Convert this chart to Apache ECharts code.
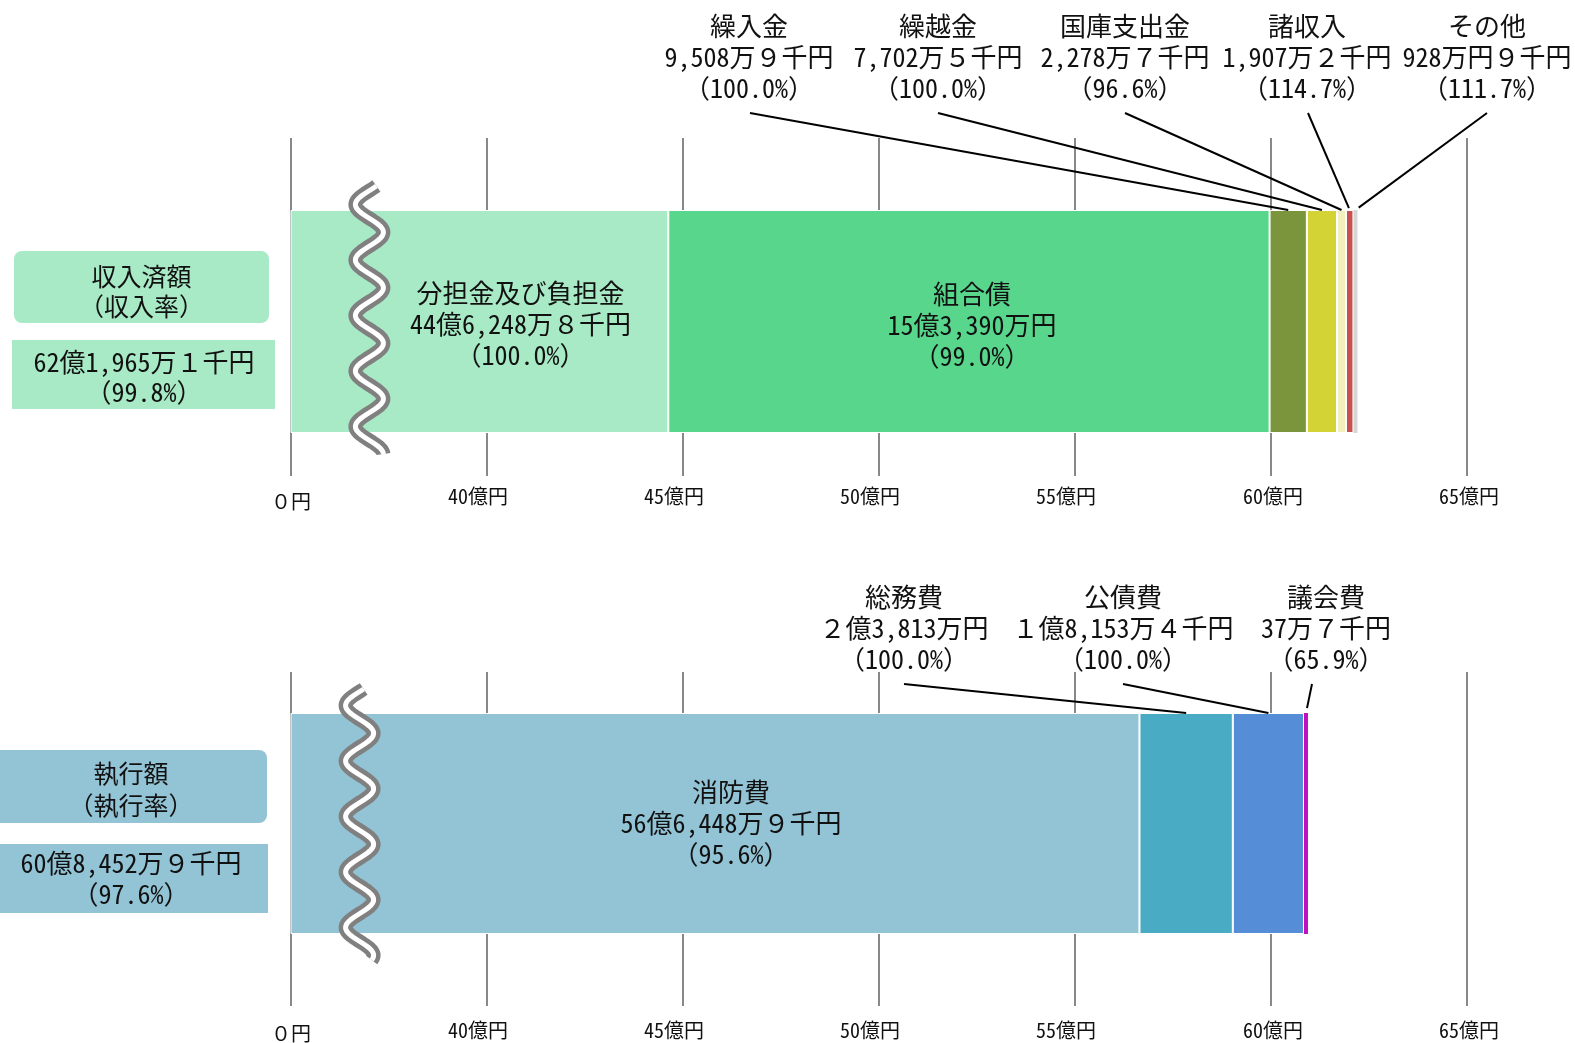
<!DOCTYPE html>
<html>
<head>
<meta charset="utf-8">
<script src="https://cdn.jsdelivr.net/npm/echarts@6/dist/echarts.min.js"></script>
<style>
  html, body { margin: 0; padding: 0; background: #fff; }
  #chart { width: 1575px; height: 1043px; }
</style>
</head>
<body>
<div id="chart"></div>
<script>
// ---- 歳入（単位：千円） ----
const incomeNames = ['分担金及び負担金', '組合債', '繰入金', '繰越金', '国庫支出金', '諸収入', 'その他'];
const incomeValues = [4462488, 1533900, 95089, 77025, 22787, 19072, 9289];
const incomeAmountText = ['44億6,248万８千円', '15億3,390万円', '9,508万９千円', '7,702万５千円',
  '2,278万７千円', '1,907万２千円', '928万円９千円'];
const incomeRates = [100.0, 99.0, 100.0, 100.0, 96.6, 114.7, 111.7];
const incomeTotalText = '62億1,965万１千円';
const incomeTotalRate = 99.8;

// ---- 歳出（単位：千円） ----
const expenseNames = ['消防費', '総務費', '公債費', '議会費'];
const expenseValues = [5664489, 238130, 181534, 377];
const expenseAmountText = ['56億6,448万９千円', '２億3,813万円', '１億8,153万４千円', '37万７千円'];
const expenseRates = [95.6, 100.0, 100.0, 65.9];
const expenseTotalText = '60億8,452万９千円';
const expenseTotalRate = 97.6;

// ---- 目盛（0円の位置に35億円を当てた省略軸） ----
const axisMin = 3500000;
const axisMax = 6500000;
const axisStep = 500000;
const tickLabels = ['０円', '40億円', '45億円', '50億円', '55億円', '60億円', '65億円'];

// ---- 見た目 ----
const FONT = "'Noto Sans Mono CJK JP', 'Noto Sans CJK JP', sans-serif";
const incomeColors = ['#a8eac6', '#57d68c', '#7a953c', '#d3d336', '#f2f0bd', '#c85050', '#d6d6d6'];
const expenseColors = ['#93c4d6', '#4aabc4', '#558ed6', '#c010c0'];
const GRID_LEFT = 291, GRID_RIGHT = 108;
const TOP_BAR = { top: 210, height: 223 };
const BOT_BAR = { top: 713, height: 222 };
const GRID_COLOR = '#888';

// 帯の中に書く内訳ラベル（系列番号 → ずらし量）
const incomeInnerLabels = { 0: [41, 3], 1: [3, 4] };
const expenseInnerLabels = { 0: [16, 0] };

// 引き出し線付きの内訳ラベル
const incomeCallouts = [
  { idx: 2, x: 749, y: 57, lineX: 750, lineY: 113, gap: 0 },
  { idx: 3, x: 938, y: 57, lineX: 938, lineY: 113, gap: 0 },
  { idx: 4, x: 1125, y: 57, lineX: 1125, lineY: 113, gap: 0 },
  { idx: 5, x: 1307, y: 57, lineX: 1308, lineY: 113, gap: 2 },
  { idx: 6, x: 1487, y: 57, lineX: 1487, lineY: 113, gap: 4 }
];
const expenseCallouts = [
  { idx: 1, x: 904, y: 628, lineX: 904, lineY: 684, gap: 0 },
  { idx: 2, x: 1123, y: 628, lineX: 1123, lineY: 684, gap: 0 },
  { idx: 3, x: 1326, y: 628, lineX: 1312, lineY: 684, gap: 5 }
];

const rateText = r => '（' + r.toFixed(1) + '%）';

const chart = echarts.init(document.getElementById('chart'), null, { renderer: 'canvas' });

function tickFormatter(v) {
  const i = Math.round((v - axisMin) / axisStep);
  const t = tickLabels[i];
  if (i === 0) return '{z|' + t + '}';
  return i <= 4 ? '{a|' + t + '}' : '{b|' + t + '}';
}

function labelRich(zPad) {
  const base = { fontSize: 20, fontFamily: FONT, color: '#111', lineHeight: 20 };
  return {
    z: Object.assign({}, base, { padding: [zPad, 0, 0, 0] }),
    a: Object.assign({}, base, { padding: [0, 18, 0, 0] }),
    b: Object.assign({}, base, { padding: [0, 0, 0, 4] })
  };
}

function lowerAxis(gridIndex, tickLen, margin, zPad) {
  return {
    type: 'value', gridIndex, position: 'bottom',
    min: axisMin, max: axisMax, interval: axisStep,
    axisLine: { show: false },
    axisTick: { show: true, length: tickLen, lineStyle: { color: GRID_COLOR, width: 2 } },
    axisLabel: { show: true, margin, formatter: tickFormatter, rich: labelRich(zPad) },
    splitLine: { show: true, lineStyle: { color: GRID_COLOR, width: 2 } }
  };
}

function upperAxis(gridIndex, tickLen) {
  return {
    type: 'value', gridIndex, position: 'top',
    min: axisMin, max: axisMax, interval: axisStep,
    axisLine: { show: false },
    axisTick: { show: true, length: tickLen, lineStyle: { color: GRID_COLOR, width: 2 } },
    axisLabel: { show: false },
    splitLine: { show: false }
  };
}

function makeSeries(names, values, colors, amounts, rates, stack, axisIdx, inner) {
  return names.map((n, i) => {
    const s = {
      type: 'bar', name: n, stack, xAxisIndex: axisIdx, yAxisIndex: axisIdx / 2,
      barWidth: '100%', silent: true, animation: false,
      data: [values[i]],
      itemStyle: { color: colors[i], borderColor: '#fff', borderWidth: 1 },
      label: { show: false }
    };
    if (inner[i]) {
      s.label = {
        show: true, position: 'inside', offset: inner[i],
        fontSize: 26, lineHeight: 31, fontFamily: FONT, color: '#111', align: 'center',
        formatter: () => n + '\n' + amounts[i] + '\n' + rateText(rates[i])
      };
    }
    // ごく小さい項目も見えるよう最小幅を確保
    if (i === names.length - 1) {
      s.barMinHeight = 4;
      s.itemStyle.borderWidth = 0;
    }
    return s;
  });
}

chart.setOption({
  backgroundColor: '#fff',
  animation: false,
  textStyle: { fontFamily: FONT },
  grid: [
    { left: GRID_LEFT, right: GRID_RIGHT, top: TOP_BAR.top, height: TOP_BAR.height },
    { left: GRID_LEFT, right: GRID_RIGHT, top: BOT_BAR.top, height: BOT_BAR.height }
  ],
  xAxis: [
    lowerAxis(0, 43, 53, 10),
    upperAxis(0, 72),
    lowerAxis(1, 72, 86, 6),
    upperAxis(1, 41)
  ],
  yAxis: [
    { type: 'category', gridIndex: 0, data: ['歳入'], show: false },
    { type: 'category', gridIndex: 1, data: ['歳出'], show: false }
  ],
  series: [
    ...makeSeries(incomeNames, incomeValues, incomeColors, incomeAmountText, incomeRates, 'income', 0, incomeInnerLabels),
    ...makeSeries(expenseNames, expenseValues, expenseColors, expenseAmountText, expenseRates, 'expense', 2, expenseInnerLabels)
  ]
});

// ---- 装飾（見出し箱・省略記号・引き出し線） ----
const px = (axisIdx, v) => chart.convertToPixel({ xAxisIndex: axisIdx }, v);

function textEl(x, y, text, size, lh) {
  return {
    type: 'text', x, y, z: 20, silent: true,
    style: {
      text, fill: '#111', fontSize: size, fontFamily: FONT,
      align: 'center', verticalAlign: 'middle', lineHeight: lh
    }
  };
}

function wave(cx, top, bottom, firstLeft) {
  const pts = [];
  const A = 14, P = 55.5;
  for (let y = top; y <= bottom; y += 1) {
    pts.push([cx - A * Math.cos(2 * Math.PI * (y - firstLeft) / P), y]);
  }
  return [
    { type: 'polyline', z: 30, silent: true, shape: { points: pts },
      style: { stroke: '#808080', lineWidth: 14, fill: null, lineCap: 'butt', lineJoin: 'round' } },
    { type: 'polyline', z: 31, silent: true, shape: { points: pts },
      style: { stroke: '#fff', lineWidth: 5, fill: null, lineCap: 'butt', lineJoin: 'round' } }
  ];
}

function callouts(list, names, values, amounts, rates, axisIdx, barTop) {
  const els = [];
  const starts = [];
  let acc = axisMin;
  values.forEach((v, i) => { starts.push(i === 0 ? axisMin : acc); acc = (i === 0 ? v : acc + v); });
  list.forEach(c => {
    const i = c.idx;
    const x0 = px(axisIdx, starts[i]);
    let x1 = px(axisIdx, starts[i] + values[i]);
    if (x1 - x0 < 4) x1 = x0 + 4;
    const cx = (x0 + x1) / 2;
    els.push(textEl(c.x, c.y, names[i] + '\n' + amounts[i] + '\n' + rateText(rates[i]), 26, 31));
    // 引き出し線：ラベル下から帯の上端へ
    const dx = cx - c.lineX, dy = barTop - c.lineY;
    const len = Math.sqrt(dx * dx + dy * dy);
    const k = (len - c.gap) / len;
    els.push({
      type: 'line', z: 25, silent: true,
      shape: { x1: c.lineX, y1: c.lineY, x2: c.lineX + dx * k, y2: c.lineY + dy * k },
      style: { stroke: '#000', lineWidth: 2 }
    });
  });
  return els;
}

const graphics = [];

// 収入済額の見出し
graphics.push({ type: 'rect', z: 5, silent: true, shape: { x: 14, y: 251, width: 255, height: 72, r: 8 }, style: { fill: '#a8eac6' } });
graphics.push(textEl(141.5, 291, '収入済額\n（収入率）', 25, 30));
graphics.push({ type: 'rect', z: 5, silent: true, shape: { x: 12, y: 340, width: 263, height: 69 }, style: { fill: '#a8eac6' } });
graphics.push(textEl(144, 377, incomeTotalText + '\n' + rateText(incomeTotalRate), 26, 30));

// 執行額の見出し
graphics.push({ type: 'rect', z: 5, silent: true, shape: { x: -8, y: 750, width: 275, height: 73, r: 8 }, style: { fill: '#93c4d6' } });
graphics.push(textEl(131, 789, '執行額\n（執行率）', 25, 32));
graphics.push({ type: 'rect', z: 5, silent: true, shape: { x: 0, y: 844, width: 268, height: 69 }, style: { fill: '#93c4d6' } });
graphics.push(textEl(131, 879, expenseTotalText + '\n' + rateText(expenseTotalRate), 26, 31));

// 省略記号（波線）
graphics.push(...wave(px(0, 3700000), TOP_BAR.top - 24, TOP_BAR.top + TOP_BAR.height + 21, TOP_BAR.top + 50));
graphics.push(...wave(px(2, 3675000), BOT_BAR.top - 24, BOT_BAR.top + BOT_BAR.height + 25, BOT_BAR.top + 48));

// 引き出し線付きラベル
graphics.push(...callouts(incomeCallouts, incomeNames, incomeValues, incomeAmountText, incomeRates, 0, TOP_BAR.top));
graphics.push(...callouts(expenseCallouts, expenseNames, expenseValues, expenseAmountText, expenseRates, 2, BOT_BAR.top));

chart.setOption({ graphic: graphics });
</script>
</body>
</html>
